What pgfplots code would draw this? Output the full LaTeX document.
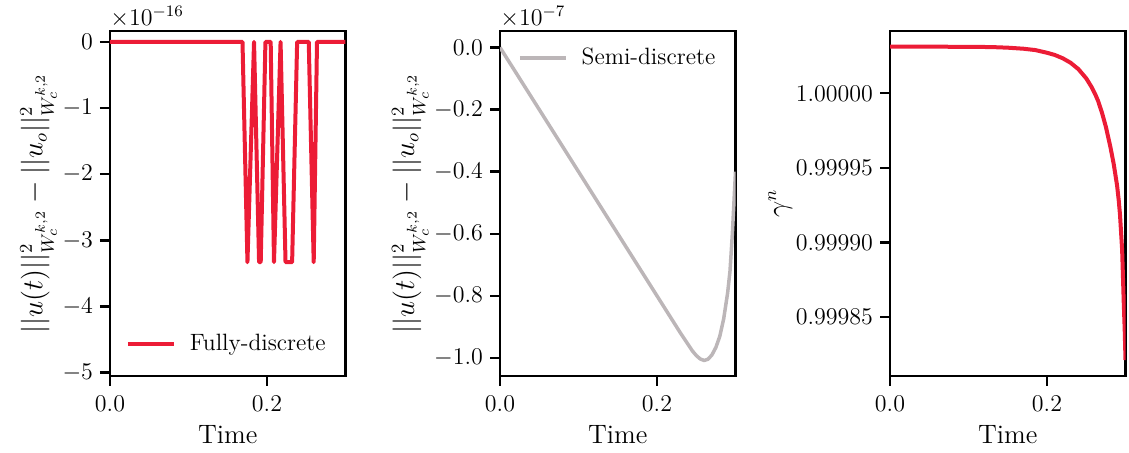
\documentclass[border=0pt]{standalone}
\usepackage{pgfplots}
\pgfplotsset{compat=1.18}
\definecolor{myred}{HTML}{EC1C36}
\definecolor{mygray}{HTML}{BCB6B8}
\pgfplotsset{
  panel/.style={
    scale only axis, width=117.75pt, height=172.5pt, anchor=south west,
    axis line style={line width=1.2pt},
    tick style={line width=1.2pt, black},
    major tick length=5pt, tick align=outside,
    xtick pos=lower, ytick pos=left,
    xmin=0, xmax=0.3, xtick={0,0.2}, xticklabels={$0.0$,$0.2$},
    xlabel={Time},
    tick label style={font=\fontsize{11.8}{14}\selectfont},
    xticklabel style={yshift=-1.5pt},
    label style={font=\fontsize{13.3}{16}\selectfont},
    ylabel shift={-4pt},
    legend style={draw=none, fill=none, font=\fontsize{11.8}{14}\selectfont},
    legend image code/.code={\draw[#1] (0pt,0pt) -- (23pt,0pt); \path (28pt,0pt);},
    legend cell align=left,
  },
}
\begin{document}
\begin{tikzpicture}
\path[use as bounding box] (0,0) rectangle (564.5pt,226.5pt);
% Panel 1: fully discrete (units of 1e-16)
\begin{axis}[panel, at={(55pt,38.5pt)},
  ymin=-5.05, ymax=0.165, ytick={-5,-4,-3,-2,-1,0},
  ylabel={$||u(t)||^2_{W_c^{k,2}} - ||u_o||^2_{W_c^{k,2}}$},
  legend style={at={(0.96,0.093)}, anchor=east},
  after end axis/.code={\node[anchor=south west, inner sep=0pt, font=\fontsize{11.8}{14}\selectfont] at ([yshift=1.5pt]rel axis cs:0,1) {$\times10^{-16}$};},
]
\addplot[myred, line width=2pt, line join=round] coordinates {
(0,0) (0.1688,0) (0.1751,-3.33) (0.1835,0) (0.1899,-3.33) (0.1920,-3.33)
(0.1980,0) (0.2047,0) (0.2089,-3.33) (0.2173,0) (0.2236,-3.33) (0.2320,-3.33)
(0.2384,0) (0.2532,0) (0.2595,-3.33) (0.2637,0) (0.3,0)
};
\addlegendentry{Fully-discrete}
\end{axis}
% Panel 2: semi discrete (units of 1e-7)
\begin{axis}[panel, at={(250pt,38.5pt)},
  ymin=-1.058, ymax=0.053, ytick={-1,-0.8,-0.6,-0.4,-0.2,0},
  yticklabel style={/pgf/number format/.cd, fixed, fixed zerofill, precision=1},
  ylabel={$||u(t)||^2_{W_c^{k,2}} - ||u_o||^2_{W_c^{k,2}}$},
  legend style={at={(0.05,0.922)}, anchor=west},
  after end axis/.code={\node[anchor=south west, inner sep=0pt, font=\fontsize{11.8}{14}\selectfont] at ([yshift=1.5pt]rel axis cs:0,1) {$\times10^{-7}$};},
]
\addplot[mygray, line width=1.75pt, line join=round] coordinates {
(0,0) (0.025,-0.1) (0.05,-0.2) (0.075,-0.3) (0.1,-0.4) (0.125,-0.5)
(0.15,-0.6) (0.175,-0.7) (0.2,-0.8) (0.21,-0.84) (0.22,-0.88) (0.23,-0.92)
(0.24,-0.958) (0.245,-0.977) (0.25,-0.992) (0.255,-1.003) (0.26,-1.008)
(0.265,-1.004) (0.27,-0.99) (0.275,-0.966) (0.28,-0.93) (0.285,-0.873)
(0.29,-0.79) (0.293,-0.72) (0.296,-0.60) (0.298,-0.50) (0.3,-0.40)
};
\addlegendentry{Semi-discrete}
\end{axis}
% Panel 3: gamma^n, plotted as (gamma^n - 1) x 1e5
\begin{axis}[panel, at={(445pt,38.5pt)},
  ymin=-18.97, ymax=4.18, ytick={-15,-10,-5,0},
  yticklabels={$0.99985$,$0.99990$,$0.99995$,$1.00000$},
  ylabel={$\gamma^n$}, ylabel shift={-5pt},
]
\addplot[myred, line width=2pt, line join=round] coordinates {
(0.000,3.13) (0.100,3.12) (0.130,3.10) (0.150,3.06) (0.170,2.99) (0.185,2.90)
(0.200,2.72) (0.210,2.57) (0.220,2.35) (0.230,2.05) (0.240,1.62) (0.250,1.00)
(0.257,0.40) (0.2613,-0.05) (0.265,-0.50) (0.270,-1.30) (0.275,-2.25)
(0.2807,-3.59) (0.285,-4.75) (0.2893,-6.20) (0.2914,-7.20) (0.293,-8.15)
(0.2957,-10.50) (0.2978,-14.10) (0.299,-15.9) (0.300,-17.9)
};
\end{axis}
\end{tikzpicture}
\end{document}
